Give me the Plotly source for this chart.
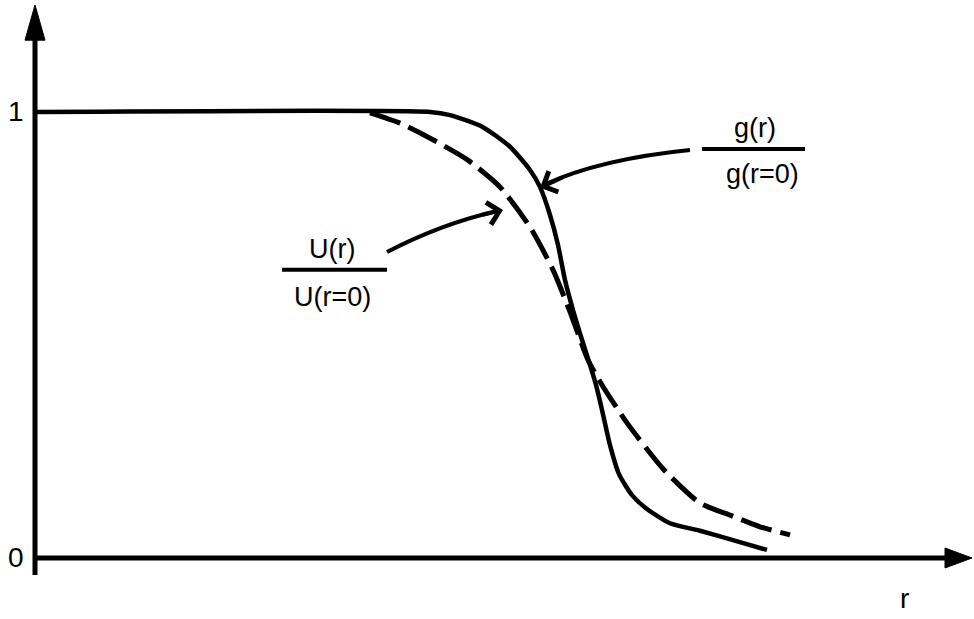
import plotly.graph_objects as go

# g(r)/g(r=0): solid curve
r_g = [0.0, 3.95, 4.15, 4.48, 4.75, 4.95, 5.05, 5.15, 5.23, 5.30, 5.38, 5.48,
       5.55, 5.61, 5.67, 5.75, 5.84, 5.97, 6.13, 6.35, 6.65, 6.98, 7.32]
g_ratio = [1.0, 1.0, 0.993, 0.966, 0.922, 0.870, 0.832, 0.769, 0.702, 0.623,
           0.556, 0.482, 0.433, 0.388, 0.332, 0.253, 0.188, 0.141, 0.108,
           0.078, 0.061, 0.040, 0.018]

# U(r)/U(r=0): dashed curve
r_u = [3.35, 3.65, 3.97, 4.33, 4.65, 4.95, 5.18, 5.35, 5.53, 5.67, 5.92, 6.28,
       6.65, 6.95, 7.25, 7.55]
u_ratio = [0.998, 0.975, 0.939, 0.892, 0.832, 0.742, 0.646, 0.552, 0.444,
           0.388, 0.303, 0.200, 0.123, 0.096, 0.070, 0.052]

y_ticks = [0, 1]
y_ticktext = ["0", "1"]

font = "Liberation Sans"
black = "black"

fig = go.Figure()

fig.add_trace(go.Scatter(
    x=r_u, y=u_ratio, mode="lines",
    line=dict(color=black, width=5, dash="32px,9px", shape="spline", smoothing=0.6),
    name="U(r)/U(r=0)", hoverinfo="skip"
))
fig.add_trace(go.Scatter(
    x=r_g, y=g_ratio, mode="lines",
    line=dict(color=black, width=4.5, shape="spline", smoothing=0.6),
    name="g(r)/g(r=0)", hoverinfo="skip"
))

shapes = [
    # y axis and its arrow
    dict(type="line", x0=0, x1=0, y0=-0.038, y1=1.17, line=dict(color=black, width=5)),
    dict(type="path", path="M 0,1.240 L -0.1,1.161 L 0.1,1.161 Z",
         fillcolor=black, line=dict(color=black, width=1)),
    # x axis and its arrow
    dict(type="line", x0=0, x1=9.12, y0=0, y1=0, line=dict(color=black, width=5)),
    dict(type="path", path="M 9.37,0 L 9.10,0.0224 L 9.10,-0.0224 Z",
         fillcolor=black, line=dict(color=black, width=1)),
    # fraction bars
    dict(type="line", x0=2.47, x1=3.52, y0=0.646, y1=0.646, line=dict(color=black, width=4)),
    dict(type="line", x0=6.67, x1=7.70, y0=0.917, y1=0.917, line=dict(color=black, width=4)),
    # curved arrow bodies
    dict(type="path", path="M 3.52,0.686 Q 4.06,0.749 4.62,0.778",
         line=dict(color=black, width=4)),
    dict(type="path", path="M 6.55,0.915 Q 5.66,0.895 5.10,0.838",
         line=dict(color=black, width=4)),
]

annotations = [
    dict(x=-0.19, y=v, text=t, showarrow=False, font=dict(family=font, size=28, color=black))
    for v, t in zip(y_ticks, y_ticktext)
]
annotations += [
    dict(x=2.97, y=0.693, text="U(r)", showarrow=False, font=dict(family=font, size=27, color=black)),
    dict(x=2.97, y=0.585, text="U(r=0)", showarrow=False, font=dict(family=font, size=27, color=black)),
    dict(x=7.20, y=0.964, text="g(r)", showarrow=False, font=dict(family=font, size=27, color=black)),
    dict(x=7.27, y=0.861, text="g(r=0)", showarrow=False, font=dict(family=font, size=27, color=black)),
    dict(x=8.69, y=-0.09, text="r", showarrow=False, font=dict(family=font, size=28, color=black)),
    # arrow heads
    dict(x=4.68, y=0.780, ax=-22, ay=5, showarrow=True, arrowhead=4, arrowsize=1.1,
         arrowwidth=4, arrowcolor=black, standoff=0, text=""),
    dict(x=5.05, y=0.830, ax=24, ay=-11, showarrow=True, arrowhead=4, arrowsize=1.1,
         arrowwidth=4, arrowcolor=black, standoff=0, text=""),
]

fig.update_layout(
    width=974, height=619,
    margin=dict(l=0, r=0, t=0, b=0),
    paper_bgcolor="white", plot_bgcolor="white",
    showlegend=False,
    xaxis=dict(range=[-0.35, 9.39], visible=False, fixedrange=True),
    yaxis=dict(range=[-0.1368, 1.2511], visible=False, fixedrange=True),
    shapes=shapes,
    annotations=annotations,
)

# drop the browser's default body margin so the figure sits at the page corner
fig.write_html("out.html", config={"displayModeBar": False},
               post_script="document.body.style.margin='0';")
